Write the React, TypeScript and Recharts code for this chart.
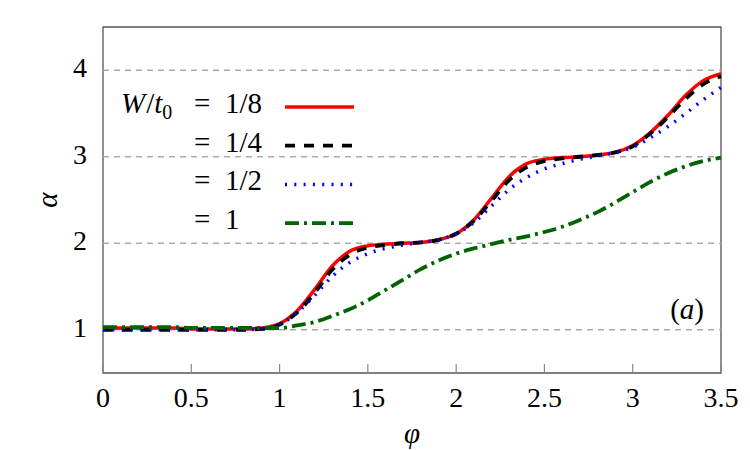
import { LineChart, Line, XAxis, YAxis, ReferenceLine, ReferenceArea } from 'recharts'

// phi grid and alpha curves for each W/t0
const phi = [0, 0.1, 0.2, 0.3, 0.4, 0.5, 0.6, 0.7, 0.8, 0.9, 1.0, 1.1, 1.2, 1.3, 1.4, 1.5, 1.6, 1.7, 1.8, 1.9, 2.0, 2.1, 2.2, 2.3, 2.4, 2.5, 2.6, 2.7, 2.8, 2.9, 3.0, 3.1, 3.2, 3.3, 3.4, 3.5]
const w8 = [1.02, 1.02, 1.02, 1.02, 1.02, 1.01, 1.01, 1.01, 1.01, 1.02, 1.07, 1.22, 1.47, 1.74, 1.91, 1.97, 1.99, 2.0, 2.01, 2.04, 2.11, 2.27, 2.52, 2.77, 2.92, 2.97, 2.99, 3.0, 3.02, 3.05, 3.13, 3.28, 3.48, 3.71, 3.88, 3.96]
const w4 = [1.0, 1.0, 1.0, 1.0, 1.0, 1.0, 1.0, 1.0, 1.0, 1.01, 1.06, 1.2, 1.43, 1.7, 1.87, 1.95, 1.98, 2.0, 2.01, 2.04, 2.11, 2.26, 2.49, 2.73, 2.88, 2.95, 2.98, 3.0, 3.02, 3.05, 3.12, 3.27, 3.46, 3.67, 3.84, 3.93]
const w2 = [1.0, 1.0, 1.0, 1.0, 1.0, 1.0, 1.0, 1.0, 1.0, 1.01, 1.06, 1.2, 1.4, 1.62, 1.78, 1.88, 1.94, 1.98, 2.01, 2.04, 2.11, 2.24, 2.43, 2.62, 2.76, 2.86, 2.92, 2.97, 3.01, 3.05, 3.11, 3.22, 3.35, 3.5, 3.66, 3.8]
const w1 = [1.03, 1.03, 1.03, 1.03, 1.03, 1.02, 1.02, 1.02, 1.02, 1.02, 1.02, 1.05, 1.09, 1.16, 1.24, 1.34, 1.46, 1.58, 1.7, 1.8, 1.88, 1.94, 1.99, 2.04, 2.08, 2.13, 2.19, 2.27, 2.36, 2.47, 2.59, 2.71, 2.81, 2.89, 2.95, 2.99]

const xTicks = [0, 0.5, 1, 1.5, 2, 2.5, 3, 3.5]
const yTicks = [1, 2, 3, 4]

const legendRows = [
    { label: '1/8', key: 'w8' },
    { label: '1/4', key: 'w4' },
    { label: '1/2', key: 'w2' },
    { label: '1', key: 'w1' },
]

const styles = {
    w8: { stroke: '#ff0000', strokeWidth: 3.5, dash: undefined },
    w4: { stroke: '#000000', strokeWidth: 3.8, dash: '10 9' },
    w2: { stroke: '#0000ff', strokeWidth: 3.5, dash: '2 7.3' },
    w1: { stroke: '#006400', strokeWidth: 3.8, dash: '14 5 3 5' },
}

const data = phi.map((p, i) => ({ phi: p, w8: w8[i], w4: w4[i], w2: w2[i], w1: w1[i] }))

const FONT = "'Times New Roman', Times, 'Liberation Serif', 'DejaVu Serif', 'Noto Serif', FreeSerif, serif"
const serif = { fontFamily: FONT }

const XTick = ({ x, y, payload }: any) => (
    <g>
        <line x1={x} x2={x} y1={y} y2={y - 9} stroke="#888" strokeWidth={1.2} />
        <text x={x} y={y + 34} textAnchor="middle" style={serif} fontSize={28} fill="#000">
            {payload.value}
        </text>
    </g>
)

const YTick = ({ x, y, payload }: any) => (
    <text x={x - 16} y={y + 7} textAnchor="end" style={serif} fontSize={28} fill="#000">
        {payload.value}
    </text>
)

const RTick = ({ x, y }: any) => <line x1={x} x2={x - 6} y1={y} y2={y} stroke="#888" strokeWidth={1.2} />

export default function App() {
    return (
        <div style={{ position: 'fixed', left: 0, top: 0, width: 750, height: 450, background: '#fff', ...serif }}>
            <LineChart width={750} height={450} data={data} margin={{ top: 27, right: 29, left: 0, bottom: 0 }}>
                <XAxis
                    dataKey="phi"
                    type="number"
                    domain={[0, 3.5]}
                    ticks={xTicks}
                    height={77}
                    tickSize={0}
                    tickMargin={0}
                    axisLine={false}
                    tickLine={false}
                    tick={<XTick />}
                    interval={0}
                />
                <YAxis
                    type="number"
                    domain={[0.5, 4.5]}
                    ticks={yTicks}
                    width={103}
                    tickSize={0}
                    tickMargin={0}
                    axisLine={false}
                    tickLine={false}
                    tick={<YTick />}
                    interval={0}
                />
                <YAxis
                    yAxisId="right"
                    orientation="right"
                    type="number"
                    domain={[0.5, 4.5]}
                    ticks={yTicks}
                    width={0}
                    tickSize={0}
                    tickMargin={0}
                    axisLine={false}
                    tickLine={false}
                    tick={<RTick />}
                    interval={0}
                />
                {yTicks.map((t) => (
                    <ReferenceLine key={t} y={t} stroke="#aaa" strokeWidth={1.5} strokeDasharray="6 5" />
                ))}
                {legendRows.map((r) => (
                    <Line
                        key={r.key}
                        type="monotone"
                        dataKey={r.key}
                        stroke={styles[r.key].stroke}
                        strokeWidth={styles[r.key].strokeWidth}
                        strokeDasharray={styles[r.key].dash}
                        dot={false}
                        activeDot={false}
                        isAnimationActive={false}
                    />
                ))}
                <ReferenceArea x1={0} x2={3.5} y1={0.5} y2={4.5} fill="none" stroke="#555" strokeWidth={1.3} />
            </LineChart>
            <svg width={750} height={450} style={{ position: 'absolute', left: 0, top: 0, pointerEvents: 'none', ...serif }}>
                <g fontSize={29} fill="#000" style={serif}>
                    <text x={121} y={113}>
                        <tspan fontStyle="italic">W</tspan>
                        <tspan dx={1}>/</tspan>
                        <tspan fontStyle="italic">t</tspan>
                        <tspan fontSize={20} dy={6}>0</tspan>
                    </text>
                    {legendRows.map((r, i) => (
                        <g key={r.key}>
                            <text x={194} y={113 + i * 38.5}>=</text>
                            <text x={225} y={113 + i * 38.5}>{r.label}</text>
                            <line
                                x1={285}
                                x2={354}
                                y1={107 + i * 38.7}
                                y2={107 + i * 38.7}
                                stroke={styles[r.key].stroke}
                                strokeWidth={styles[r.key].strokeWidth}
                                strokeDasharray={styles[r.key].dash}
                            />
                        </g>
                    ))}
                    <text x={704} y={319} textAnchor="end">
                        (<tspan fontStyle="italic">a</tspan>)
                    </text>
                    <text x={412} y={443} textAnchor="middle" fontStyle="italic">φ</text>
                    <text x={47} y={200} textAnchor="middle" fontStyle="italic" transform="rotate(-90 47 200)" dominantBaseline="central">α</text>
                </g>
            </svg>
        </div>
    )
}
